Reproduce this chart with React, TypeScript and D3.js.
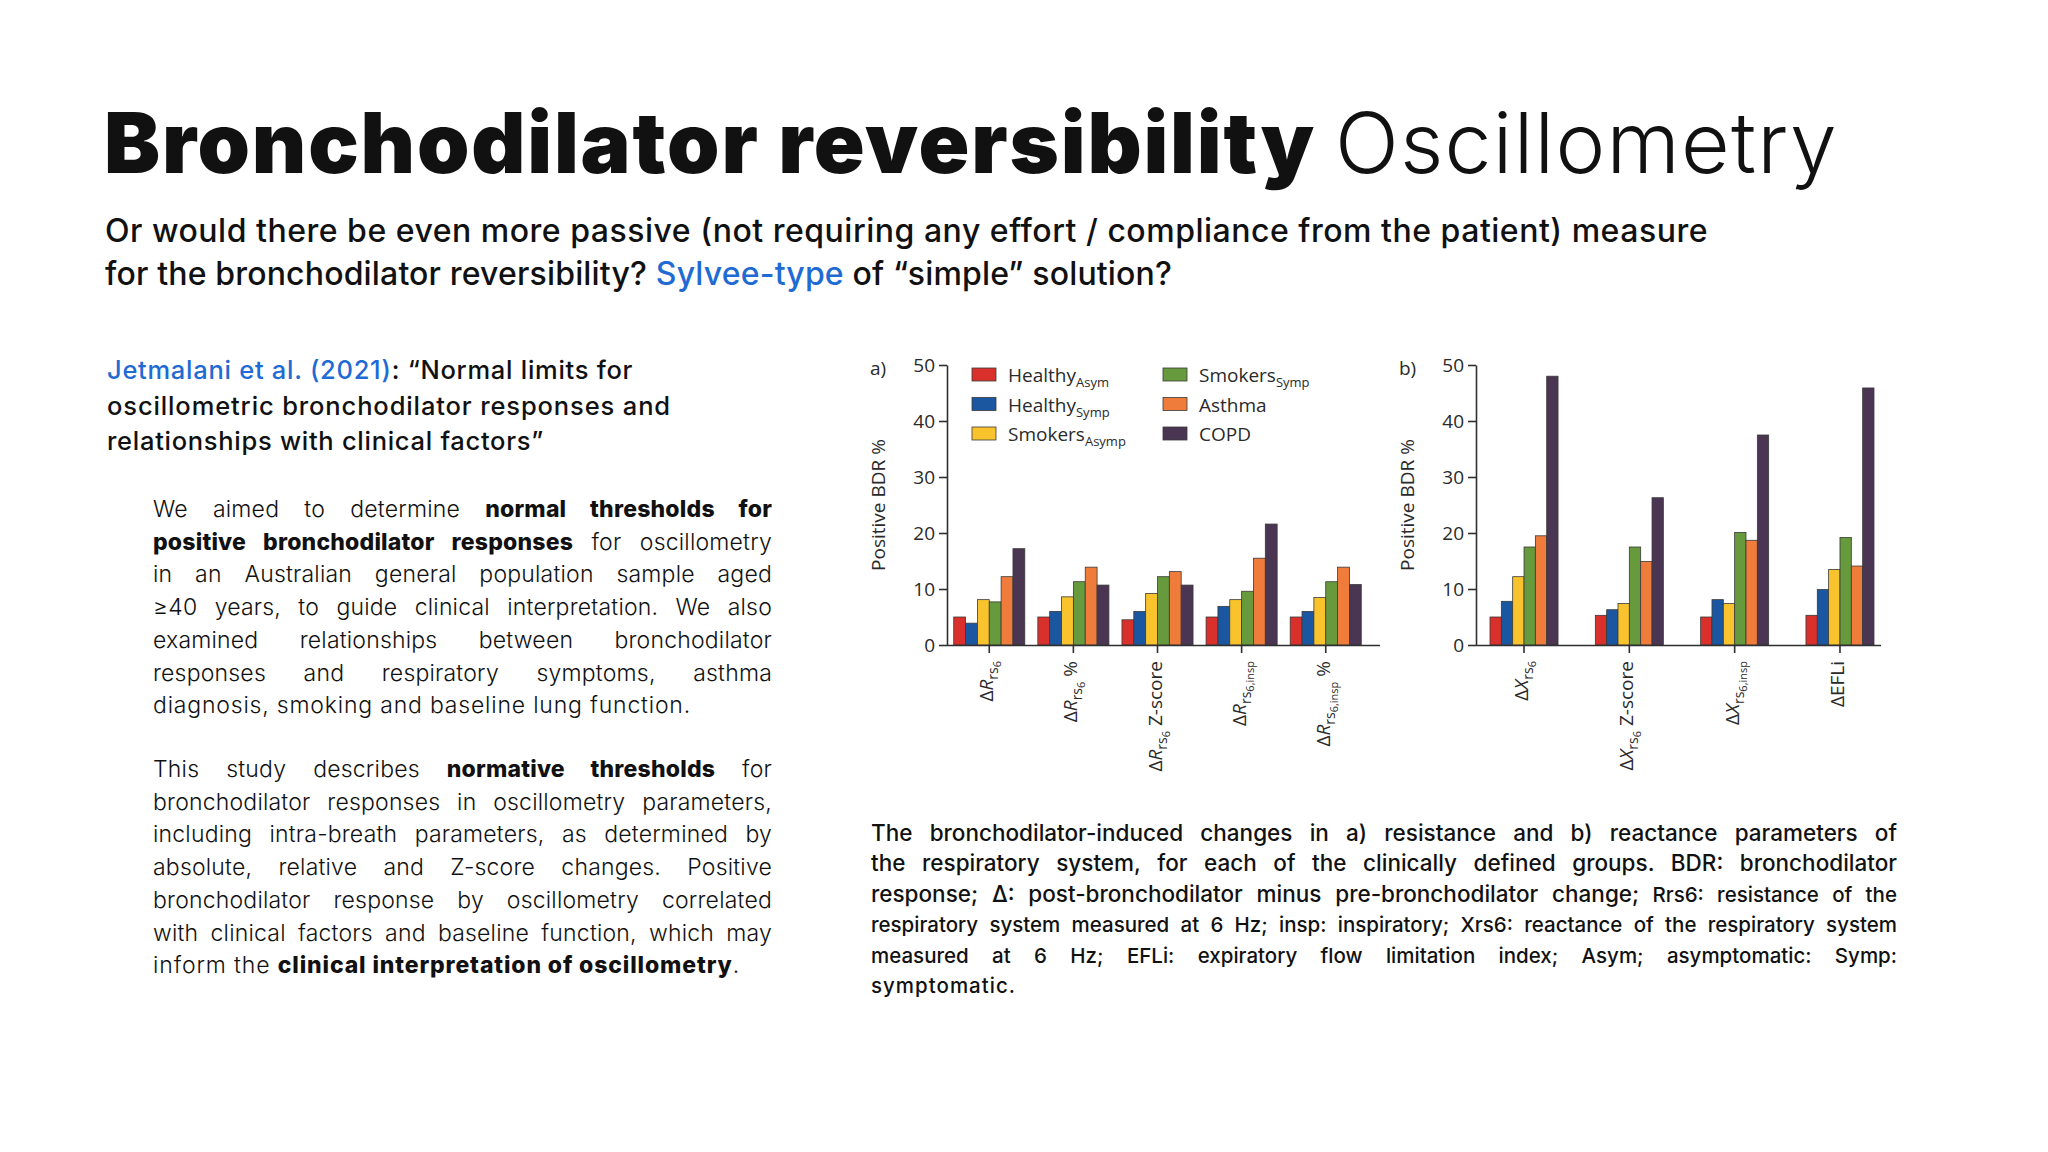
import React, { useEffect, useRef } from 'react';
import * as d3 from 'd3';

const W = 2048;
const H = 1152;
const INK = '#111111';
const BLUE = '#1f6bd3';
const AXIS = '#2f2f2f';
const TEXT_FONT = 'Inter, "Noto Sans", sans-serif';
const CHART_FONT = '"Open Sans", "Noto Sans", sans-serif';

// subject groups (bar series)
const seriesKeys = ['healthyAsym', 'healthySymp', 'smokersAsymp', 'smokersSymp', 'asthma', 'copd'];
const seriesColors = ['#d9302b', '#1b57a1', '#f8c32c', '#67993d', '#f07c3c', '#4a3553'];
const legendMain = ['Healthy', 'Healthy', 'Smokers', 'Smokers', 'Asthma', 'COPD'];
const legendSub = ['Asym', 'Symp', 'Asymp', 'Symp', '', ''];

// a) resistance parameters, % with positive BDR
const resistanceParams = ['dRrs6', 'dRrs6Pct', 'dRrs6Z', 'dRrs6Insp', 'dRrs6InspPct'];
const resHealthyAsym = [5.0, 5.0, 4.5, 5.0, 5.0];
const resHealthySymp = [3.9, 6.0, 6.0, 6.9, 6.0];
const resSmokersAsymp = [8.1, 8.6, 9.2, 8.1, 8.5];
const resSmokersSymp = [7.7, 11.3, 12.2, 9.6, 11.3];
const resAsthma = [12.2, 13.9, 13.1, 15.5, 13.9];
const resCopd = [17.2, 10.7, 10.7, 21.6, 10.8];

// b) reactance parameters, % with positive BDR
const reactanceParams = ['dXrs6', 'dXrs6Z', 'dXrs6Insp', 'dEFLi'];
const reaHealthyAsym = [5.0, 5.3, 5.0, 5.3];
const reaHealthySymp = [7.8, 6.3, 8.1, 9.9];
const reaSmokersAsymp = [12.2, 7.4, 7.4, 13.5];
const reaSmokersSymp = [17.5, 17.5, 20.1, 19.2];
const reaAsthma = [19.5, 14.9, 18.7, 14.1];
const reaCopd = [48.0, 26.3, 37.5, 45.9];

const yTicks = [0, 10, 20, 30, 40, 50];

type Part = { t: string; k?: 'n' | 'i' | 'sub' | 'subsub' };
const resistanceLabels: Part[][] = [
  [{ t: 'Δ' }, { t: 'R', k: 'i' }, { t: 'rs', k: 'sub' }, { t: '6', k: 'subsub' }],
  [{ t: 'Δ' }, { t: 'R', k: 'i' }, { t: 'rs', k: 'sub' }, { t: '6', k: 'subsub' }, { t: ' %' }],
  [{ t: 'Δ' }, { t: 'R', k: 'i' }, { t: 'rs', k: 'sub' }, { t: '6', k: 'subsub' }, { t: ' Z-score' }],
  [{ t: 'Δ' }, { t: 'R', k: 'i' }, { t: 'rs', k: 'sub' }, { t: '6,insp', k: 'subsub' }],
  [{ t: 'Δ' }, { t: 'R', k: 'i' }, { t: 'rs', k: 'sub' }, { t: '6,insp', k: 'subsub' }, { t: ' %' }],
];
const reactanceLabels: Part[][] = [
  [{ t: 'Δ' }, { t: 'X', k: 'i' }, { t: 'rs', k: 'sub' }, { t: '6', k: 'subsub' }],
  [{ t: 'Δ' }, { t: 'X', k: 'i' }, { t: 'rs', k: 'sub' }, { t: '6', k: 'subsub' }, { t: ' Z-score' }],
  [{ t: 'Δ' }, { t: 'X', k: 'i' }, { t: 'rs', k: 'sub' }, { t: '6,insp', k: 'subsub' }],
  [{ t: 'ΔEFLi' }],
];

// slide text
type Seg = { t: string; b?: boolean; c?: string; s?: number };
const titleBold = 'Bronchodilator reversibility';
const titleLight = 'Oscillometry';
const subtitleLines: Seg[][] = [
  [{ t: 'Or would there be even more passive (not requiring any effort / compliance from the patient) measure' }],
  [{ t: 'for the bronchodilator reversibility? ' }, { t: 'Sylvee-type', c: BLUE }, { t: ' of “simple” solution?' }],
];
const subtitleWidths = [1603, 1067];
const headingLines: Seg[][] = [
  [{ t: 'Jetmalani et al. (2021)', c: BLUE }, { t: ': “Normal limits for' }],
  [{ t: 'oscillometric bronchodilator responses and' }],
  [{ t: 'relationships with clinical factors”' }],
];
const headingWidths = [526, 564, 437];
const para1Lines: Seg[][] = [
  [{ t: 'We aimed to determine ' }, { t: 'normal thresholds for', b: true }],
  [{ t: 'positive bronchodilator responses', b: true }, { t: ' for oscillometry' }],
  [{ t: 'in an Australian general population sample aged' }],
  [{ t: '≥40 years, to guide clinical interpretation. We also' }],
  [{ t: 'examined relationships between bronchodilator' }],
  [{ t: 'responses and respiratory symptoms, asthma' }],
  [{ t: 'diagnosis, smoking and baseline lung function.' }],
];
const para2Lines: Seg[][] = [
  [{ t: 'This study describes ' }, { t: 'normative thresholds', b: true }, { t: ' for' }],
  [{ t: 'bronchodilator responses in oscillometry parameters,' }],
  [{ t: 'including intra-breath parameters, as determined by' }],
  [{ t: 'absolute, relative and Z-score changes. Positive' }],
  [{ t: 'bronchodilator response by oscillometry correlated' }],
  [{ t: 'with clinical factors and baseline function, which may' }],
  [{ t: 'inform the ' }, { t: 'clinical interpretation of oscillometry', b: true }, { t: '.' }],
];
const captionLines: Seg[][] = [
  [{ t: 'The bronchodilator-induced changes in a) resistance and b) reactance parameters of' }],
  [{ t: 'the respiratory system, for each of the clinically defined groups. BDR: bronchodilator' }],
  [{ t: 'response; Δ: post-bronchodilator minus pre-bronchodilator change;' }, { t: ' Rrs6: resistance of the', s: 20.5 }],
  [{ t: 'respiratory system measured at 6 Hz; insp: inspiratory; Xrs6: reactance of the respiratory system' }],
  [{ t: 'measured at 6 Hz; EFLi: expiratory flow limitation index; Asym; asymptomatic: Symp:' }],
  [{ t: 'symptomatic.' }],
];
const captionSizes = [22.5, 22.5, 22.5, 20.5, 20.5, 20.5];

const App: React.FC = () => {
  const svgRef = useRef<SVGSVGElement>(null);

  useEffect(() => {
    if (!svgRef.current) return;
    const svg = d3.select(svgRef.current);
    svg.selectAll('*').remove();
    svg.append('rect').attr('width', W).attr('height', H).attr('fill', '#ffffff');

    // one line of text, stretched to a width (justify = word gaps, fit = letter spacing)
    const writeLine = (
      segs: Seg[], x: number, y: number, size: number, weight: number,
      width: number, mode: 'justify' | 'fit' | 'none', tracking = 0
    ) => {
      const text = svg.append('text')
        .attr('x', x).attr('y', y)
        .attr('font-family', TEXT_FONT)
        .attr('font-size', size)
        .attr('font-weight', weight)
        .attr('letter-spacing', tracking)
        .attr('fill', INK)
        .style('white-space', 'pre');
      segs.forEach(s => {
        const ts = text.append('tspan').text(s.t);
        if (s.b) ts.attr('font-weight', 800);
        if (s.c) ts.attr('fill', s.c);
        if (s.s) ts.attr('font-size', s.s);
      });
      const len = (text.node() as SVGTextElement).getComputedTextLength();
      const full = segs.map(s => s.t).join('');
      if (mode === 'justify') {
        const gaps = full.split(' ').length - 1;
        if (gaps > 0) text.attr('word-spacing', (width - len) / gaps);
      } else if (mode === 'fit') {
        text.attr('letter-spacing', tracking + (width - len) / full.length);
      }
      return text;
    };

    // title + subtitle
    writeLine([{ t: titleBold }], 104, 173, 84, 900, 1212, 'fit');
    writeLine([{ t: titleLight }], 1335, 173, 84, 300, 503, 'fit');
    subtitleLines.forEach((l, i) => writeLine(l, 105, 242 + i * 43, 32, 500, subtitleWidths[i], 'fit'));

    // left column
    headingLines.forEach((l, i) => writeLine(l, 107, 379 + i * 35.5, 25.5, 500, headingWidths[i], 'fit'));
    para1Lines.forEach((l, i) => {
      const last = i === para1Lines.length - 1;
      writeLine(l, 153, 517 + i * 32.7, 23, 300, last ? 538 : 619, last ? 'fit' : 'justify', 0.2);
    });
    para2Lines.forEach((l, i) => {
      const last = i === para2Lines.length - 1;
      writeLine(l, 153, 777 + i * 32.7, 23, 300, last ? 587 : 619, last ? 'fit' : 'justify', 0.2);
    });

    // caption
    captionLines.forEach((l, i) => {
      const last = i === captionLines.length - 1;
      writeLine(l, 871, 841 + i * 30.4, captionSizes[i], 500, last ? 145 : 1026, last ? 'fit' : 'justify');
    });

    // charts
    const Y_BASE = 645;
    const Y_TOP = 365;
    const y = d3.scaleLinear().domain([0, 50]).range([Y_BASE, Y_TOP]);
    const partSize: Record<string, number> = { n: 19, i: 19, sub: 14, subsub: 11 };
    const partShift: Record<string, number> = { n: 0, i: 0, sub: 5, subsub: 8 };

    const drawPanel = (cfg: {
      tag: string; params: string[]; labels: Part[][]; series: number[][];
      range: [number, number]; padIn: number; padOut: number;
      axisX: number; axisEnd: number; legend: boolean;
    }) => {
      const g = svg.append('g').attr('font-family', CHART_FONT);
      const x = d3.scaleBand<string>().domain(cfg.params).range(cfg.range)
        .paddingInner(cfg.padIn).paddingOuter(cfg.padOut);
      const xs = d3.scaleBand<string>().domain(seriesKeys).range([0, x.bandwidth()]);

      cfg.series.forEach((vals, j) => {
        g.append('g')
          .selectAll('rect')
          .data(vals)
          .join('rect')
          .attr('x', (_, i) => (x(cfg.params[i]) ?? 0) + (xs(seriesKeys[j]) ?? 0))
          .attr('y', d => y(d))
          .attr('width', xs.bandwidth())
          .attr('height', d => y(0) - y(d))
          .attr('fill', seriesColors[j])
          .attr('stroke', '#3a3a3a')
          .attr('stroke-width', 0.8);
      });

      // y axis
      const yAxis = g.append('g')
        .attr('transform', `translate(${cfg.axisX},0)`)
        .call(d3.axisLeft(y).tickValues(yTicks).tickSize(8).tickSizeOuter(0).tickPadding(4));
      yAxis.attr('font-family', CHART_FONT).attr('font-size', 19);
      yAxis.select('.domain').attr('stroke', AXIS).attr('stroke-width', 1.6);
      yAxis.selectAll('.tick line').attr('stroke', AXIS).attr('stroke-width', 1.6);
      yAxis.selectAll('.tick text').attr('fill', '#2a2a2a');

      // x axis
      const xAxis = g.append('g')
        .attr('transform', `translate(0,${Y_BASE})`)
        .call(d3.axisBottom(x).tickSize(8).tickSizeOuter(0).tickFormat(() => ''));
      xAxis.select('.domain').remove();
      xAxis.selectAll('.tick line').attr('stroke', AXIS).attr('stroke-width', 1.6);
      g.append('line')
        .attr('x1', cfg.axisX).attr('x2', cfg.axisEnd)
        .attr('y1', Y_BASE + 0.5).attr('y2', Y_BASE + 0.5)
        .attr('stroke', AXIS).attr('stroke-width', 1.6);

      // rotated parameter labels
      cfg.params.forEach((p, i) => {
        const cx = (x(p) ?? 0) + x.bandwidth() / 2;
        const t = g.append('text')
          .attr('transform', `translate(${cx + 4},${Y_BASE + 16}) rotate(-90)`)
          .attr('text-anchor', 'end')
          .attr('fill', '#2a2a2a')
          .style('white-space', 'pre');
        let shift = 0;
        cfg.labels[i].forEach(part => {
          const k = part.k ?? 'n';
          const ts = t.append('tspan').text(part.t).attr('font-size', partSize[k]);
          if (partShift[k] !== shift) ts.attr('dy', partShift[k] - shift);
          if (k === 'i') ts.attr('font-style', 'italic');
          shift = partShift[k];
        });
      });

      // y title + panel tag
      g.append('text')
        .attr('transform', `translate(${cfg.axisX - 62},${(Y_BASE + Y_TOP) / 2}) rotate(-90)`)
        .attr('text-anchor', 'middle')
        .attr('font-size', 19)
        .attr('fill', '#2a2a2a')
        .text('Positive BDR %');
      g.append('text')
        .attr('x', cfg.axisX - 77)
        .attr('y', 375)
        .attr('font-size', 19)
        .attr('fill', '#2a2a2a')
        .text(cfg.tag);

      if (cfg.legend) {
        seriesKeys.forEach((k, j) => {
          const col = Math.floor(j / 3);
          const row = j % 3;
          const lx = cfg.axisX + 25 + col * 191;
          const ly = 375 + row * 29.5;
          g.append('rect')
            .attr('x', lx).attr('y', ly - 7)
            .attr('width', 24).attr('height', 13)
            .attr('fill', seriesColors[j])
            .attr('stroke', '#3a3a3a').attr('stroke-width', 0.8);
          const t = g.append('text')
            .attr('x', lx + 36).attr('y', ly + 7)
            .attr('font-size', 19)
            .attr('fill', '#2a2a2a')
            .text(legendMain[j]);
          if (legendSub[j]) t.append('tspan').attr('font-size', 13).attr('dy', 5).text(legendSub[j]);
        });
      }
    };

    drawPanel({
      tag: 'a)',
      params: resistanceParams,
      labels: resistanceLabels,
      series: [resHealthyAsym, resHealthySymp, resSmokersAsymp, resSmokersSymp, resAsthma, resCopd],
      range: [947, 1368], padIn: 0.155, padOut: 0.08,
      axisX: 947, axisEnd: 1380, legend: true,
    });
    drawPanel({
      tag: 'b)',
      params: reactanceParams,
      labels: reactanceLabels,
      series: [reaHealthyAsym, reaHealthySymp, reaSmokersAsymp, reaSmokersSymp, reaAsthma, reaCopd],
      range: [1480, 1884], padIn: 0.354, padOut: 0.095,
      axisX: 1476, axisEnd: 1881, legend: false,
    });
  }, []);

  return (
    <svg
      ref={svgRef}
      width={W}
      height={H}
      viewBox={`0 0 ${W} ${H}`}
      style={{ position: 'absolute', left: 0, top: 0, display: 'block' }}
    />
  );
};

export default App;
